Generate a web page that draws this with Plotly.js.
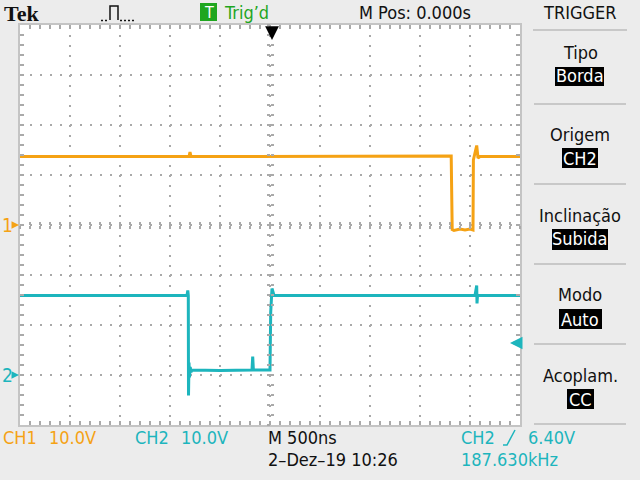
<!DOCTYPE html>
<html><head><meta charset="utf-8">
<script src="https://cdn.plot.ly/plotly-3.0.1.min.js"></script>
<style>html,body{margin:0;padding:0;background:#ececec;}#plot{width:640px;height:480px;}</style>
</head><body><div id="plot"></div>
<script>
// ---- data (time in ns, voltage in V) ----
const ch1Time = [-2500, -810, -800, -790, 1812, 1817, 1822, 1840, 1900, 1950, 2000, 2030, 2034, 2067, 2080, 2100, 2500];
const ch1Volt = [13.7, 13.7, 14.6, 13.7, 13.8, -0.3, -0.9, -1.1, -0.8, -1.0, -0.8, -1.0, 13.0, 15.9, 13.4, 13.7, 13.7];
const ch2Time = [-2500, -830, -822, -817, -815, -810, -805, -798, -790, -780, -500, -180, -173, -166, 0, 7, 20, 40, 2050, 2067, 2070, 2075, 2500];
const ch2Volt = [15.9, 15.9, 16.9, 15.9, -4.1, 2.5, -0.5, 1.6, 0.6, 1.0, 0.9, 1.0, 3.7, 1.0, 1.0, 12.5, 17.3, 15.9, 15.9, 17.9, 14.3, 15.9, 15.9];
const ch1Color = '#f5a214';
const ch2Color = '#1db5bd';
const trigLevel = 6.4;

// pixel -> paper helpers (plot area 20..520 x 25..425)
const PX = x => (x - 20) / 500;
const PY = y => (425 - y) / 400;
const FONT = 'DejaVu Sans Condensed, Liberation Sans, Arial, sans-serif';
const FS = 18;

const traces = [
  {x: ch1Time, y: ch1Volt, type: 'scatter', mode: 'lines', xaxis: 'x', yaxis: 'y',
   line: {color: ch1Color, width: 3}, hoverinfo: 'skip'},
  {x: ch2Time, y: ch2Volt, type: 'scatter', mode: 'lines', xaxis: 'x', yaxis: 'y2',
   line: {color: ch2Color, width: 3}, hoverinfo: 'skip'},
  {x: [], y: [], xaxis: 'x2', yaxis: 'y', showlegend: false},
  {x: [], y: [], xaxis: 'x3', yaxis: 'y', showlegend: false},
  {x: [], y: [], xaxis: 'x', yaxis: 'y3', showlegend: false},
  {x: [], y: [], xaxis: 'x', yaxis: 'y4', showlegend: false}
];

const tickCol = '#aaaaaa';
const gridCommon = {showgrid: true, gridcolor: '#a9a9a9', griddash: '2px,8px', gridwidth: 1.5,
  zeroline: false, showticklabels: false, fixedrange: true};

const centerX = {overlaying: 'x', range: [-2500, 2500], anchor: 'free', position: 0.5,
  showgrid: false, zeroline: false, showline: false, showticklabels: false,
  dtick: 100, tick0: 0, ticklen: 3, tickwidth: 1.5, tickcolor: tickCol};
const centerY = {overlaying: 'y', range: [-40, 40], anchor: 'free', position: 0.5,
  showgrid: false, zeroline: false, showline: false, showticklabels: false,
  dtick: 2, tick0: 0, ticklen: 3, tickwidth: 1.5, tickcolor: tickCol};

function txt(text, x, y, opts) {
  return Object.assign({text: text, xref: 'paper', yref: 'paper', x: PX(x), y: PY(y),
    xanchor: 'left', yanchor: 'middle', showarrow: false,
    font: {family: FONT, size: FS, color: '#111'}}, opts || {});
}
function box(x0, y0, x1, y1, color) {
  return {type: 'rect', xref: 'paper', yref: 'paper', x0: PX(x0), x1: PX(x1), y0: PY(y1), y1: PY(y0),
    fillcolor: color, line: {width: 0}, layer: 'above'};
}
function hline(x0, x1, y, color, w, dash) {
  return {type: 'line', xref: 'paper', yref: 'paper', x0: PX(x0), x1: PX(x1), y0: PY(y), y1: PY(y),
    line: {color: color, width: w, dash: dash || 'solid'}};
}
const white = {family: FONT, size: FS, color: '#fff'};

const panelCX = 580;
const annotations = [
  txt('Tek', 2, 14, {font: {family: 'Liberation Serif, DejaVu Serif, serif', size: 22, color: '#111', weight: 'bold'}}),
  txt('T', 208.5, 12, {xanchor: 'center', font: {family: FONT, size: 16, color: '#ffffff'}}),
  txt('Trig\u2019d', 222, 12, {font: {family: FONT, size: FS, color: '#1fa61f'}}),
  txt('M Pos: 0.000s', 357, 12, {font: {family: FONT, size: FS, color: '#111'}}),
  txt('TRIGGER', 580, 12, {xanchor: 'center', font: {family: FONT, size: FS, color: '#111'}}),
  // bottom status
  txt('CH1', 1, 437, {font: {family: FONT, size: FS, color: ch1Color}}),
  txt('10.0V', 47, 437, {font: {family: FONT, size: FS, color: ch1Color}}),
  txt('CH2', 133, 437, {font: {family: FONT, size: FS, color: ch2Color}}),
  txt('10.0V', 179, 437, {font: {family: FONT, size: FS, color: ch2Color}}),
  txt('M 500ns', 266, 437, {font: {family: FONT, size: FS, color: '#111'}}),
  txt('2\u2013Dez\u201319 10:26', 266, 460, {font: {family: FONT, size: FS, color: '#111'}}),
  txt('CH2', 459, 437, {font: {family: FONT, size: FS, color: ch2Color}}),
  txt('6.40V', 526, 437, {font: {family: FONT, size: FS, color: ch2Color}}),
  txt('187.630kHz', 459, 460, {font: {family: FONT, size: FS, color: ch2Color}}),
  // right panel
  txt('Tipo', panelCX, 52, {xanchor: 'center'}),
  txt('Borda', panelCX, 76, {xanchor: 'center', font: white}),
  txt('Origem', panelCX, 134, {xanchor: 'center'}),
  txt('CH2', panelCX, 158, {xanchor: 'center', font: white}),
  txt('Inclinação', panelCX, 215, {xanchor: 'center'}),
  txt('Subida', panelCX, 239, {xanchor: 'center', font: white}),
  txt('Modo', panelCX, 294, {xanchor: 'center'}),
  txt('Auto', panelCX, 319, {xanchor: 'center', font: white}),
  txt('Acoplam.', panelCX, 375, {xanchor: 'center'}),
  txt('CC', panelCX, 399, {xanchor: 'center', font: white}),
  // channel ground markers
  {text: '1', xref: 'paper', yref: 'y', x: PX(19), y: 0, ax: -12, ay: 0, showarrow: true,
   arrowhead: 2, arrowsize: 1, arrowwidth: 1.5, arrowcolor: ch1Color, standoff: 0,
   font: {family: FONT, size: 19, color: ch1Color}},
  {text: '2', xref: 'paper', yref: 'y2', x: PX(19), y: 0, ax: -12, ay: 0, showarrow: true,
   arrowhead: 2, arrowsize: 1, arrowwidth: 1.5, arrowcolor: ch2Color, standoff: 0,
   font: {family: FONT, size: 19, color: ch2Color}},
  // trigger position marker
  {text: '', xref: 'x', yref: 'paper', x: 20, y: PY(40), ax: 0, ay: -14, showarrow: true,
   arrowhead: 2, arrowsize: 1.1, arrowwidth: 2.5, arrowcolor: '#000'},
  // trigger level marker
  {text: '', xref: 'paper', yref: 'y2', x: PX(510), y: trigLevel, ax: 10, ay: 0, showarrow: true,
   arrowhead: 2, arrowsize: 1, arrowwidth: 2.5, arrowcolor: ch2Color}
];

const pulsePath = 'M ' + PX(110) + ',' + PY(20) + ' L ' + PX(110) + ',' + PY(6) + ' L ' + PX(118) + ',' + PY(6) + ' L ' + PX(118) + ',' + PY(20);
const shapes = [
  {type: 'path', xref: 'paper', yref: 'paper', path: pulsePath, line: {color: '#111', width: 1.5}},
  hline(101, 109, 20.5, '#111', 1.5, '2px,2px'),
  hline(120, 136, 20.5, '#111', 1.5, '2px,2px'),
  box(200, 3, 217, 21, '#1fa61f'),
  hline(533, 627, 30, '#c8c8c8', 2),
  hline(534, 626, 104, '#c8c8c8', 2),
  hline(534, 626, 184, '#c8c8c8', 2),
  hline(534, 626, 264, '#c8c8c8', 2),
  hline(534, 626, 344, '#c8c8c8', 2),
  hline(534, 626, 424, '#c8c8c8', 2),
  box(555, 67, 604, 86, '#000'),
  box(562, 148, 598, 168, '#000'),
  box(552, 229, 608, 250, '#000'),
  box(559, 309, 602, 329, '#000'),
  box(567, 389, 594, 409, '#000'),
  {type: 'path', xref: 'paper', yref: 'paper',
   path: 'M ' + PX(503) + ',' + PY(445) + ' L ' + PX(507) + ',' + PY(445) + ' L ' + PX(515) + ',' + PY(430),
   line: {color: ch2Color, width: 1.5}}
];

const layout = {
  width: 640, height: 480,
  margin: {l: 20, r: 120, t: 25, b: 55, pad: 0},
  paper_bgcolor: '#ececec', plot_bgcolor: '#ffffff',
  showlegend: false,
  font: {family: FONT},
  xaxis: Object.assign({}, gridCommon, {range: [-2500, 2500], dtick: 500, tick0: 0,
    showline: true, linecolor: '#c4c4c4', linewidth: 2, mirror: 'allticks',
    ticks: 'inside', ticklen: 4, tickcolor: tickCol, tickwidth: 1.5,
    minor: {dtick: 100, tick0: 0, ticks: 'inside', ticklen: 4, tickcolor: tickCol, tickwidth: 1.5, showgrid: false}}),
  yaxis: Object.assign({}, gridCommon, {range: [-40, 40], dtick: 10, tick0: 0,
    showline: true, linecolor: '#c4c4c4', linewidth: 2, mirror: 'allticks',
    ticks: 'inside', ticklen: 4, tickcolor: tickCol, tickwidth: 1.5,
    minor: {dtick: 2, tick0: 0, ticks: 'inside', ticklen: 4, tickcolor: tickCol, tickwidth: 1.5, showgrid: false}}),
  yaxis2: {overlaying: 'y', range: [-10, 70], visible: false, fixedrange: true},
  xaxis2: Object.assign({}, centerX, {ticks: 'inside'}),
  xaxis3: Object.assign({}, centerX, {ticks: 'outside'}),
  yaxis3: Object.assign({}, centerY, {ticks: 'inside'}),
  yaxis4: Object.assign({}, centerY, {ticks: 'outside'}),
  annotations: annotations,
  shapes: shapes
};

Plotly.newPlot('plot', traces, layout, {staticPlot: true, displayModeBar: false});
</script></body></html>
